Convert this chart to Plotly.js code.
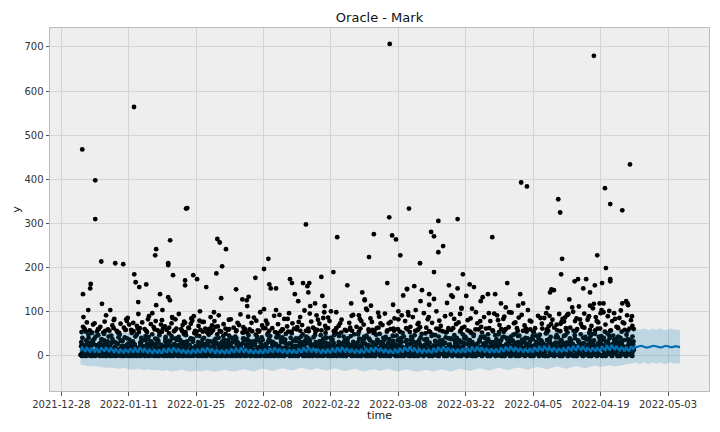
<!DOCTYPE html>
<html>
<head>
<meta charset="utf-8">
<script src="https://cdn.plot.ly/plotly-3.0.1.min.js"></script>
<style>
  body { margin: 0; background: #fff; }
  #plot { width: 720px; height: 432px; }
</style>
</head>
<body>
<div id="plot"></div>
<script>
// observations sampled every 4 hours from 2022-01-01 00:00 (6 per day)
var lowStart = '2022-01-01T00:00';
var lowStepHours = 4;
var lowVals = [
  2,31,8,0,14,22, 5,0,26,12,41,3, 0,18,7,35,2,11, 9,1,24,4,47,15, 0,13,38,6,21,2,
  27,4,0,16,9,44, 3,20,11,0,33,7, 14,0,5,29,2,52, 1,9,36,17,0,23, 6,42,2,13,25,0,
  18,0,8,31,4,12, 0,27,15,3,48,9, 11,2,22,0,37,6, 4,16,0,45,10,28, 0,7,19,2,33,13,
  24,1,9,39,0,15, 3,30,0,12,21,55, 8,0,17,5,43,26, 0,14,34,2,9,19, 20,3,0,27,11,40,
  1,10,23,0,36,6, 15,0,4,49,18,30, 2,25,9,0,13,38, 0,7,32,16,3,21, 12,1,0,28,45,8,
  5,19,37,0,10,24, 0,11,3,26,50,14, 9,0,21,6,33,17, 2,29,12,0,41,7, 16,4,0,23,10,35,
  0,8,27,14,2,46, 20,0,6,31,11,3, 1,15,40,0,24,9, 7,0,18,3,29,53, 0,12,25,5,38,16,
  22,2,0,14,9,33, 4,30,11,0,44,19, 0,6,21,2,15,36, 13,0,8,27,4,48, 1,17,34,0,10,23,
  9,0,3,25,42,14, 0,20,12,6,31,2, 18,1,0,37,8,26, 3,11,28,0,16,51, 0,7,22,13,39,4,
  15,0,5,30,19,44, 2,24,10,0,35,12, 0,16,40,3,9,27, 11,0,19,6,47,31, 4,28,0,14,22,8,
  0,10,33,1,17,42, 21,3,0,12,26,6, 1,14,37,0,9,20, 7,0,23,4,45,15, 0,18,11,29,2,34,
  13,0,6,40,21,8, 3,25,0,15,10,49, 0,9,19,2,32,13, 16,1,0,27,7,38, 5,12,43,0,20,24,
  0,6,14,3,30,52, 10,0,22,8,36,17, 2,31,0,13,4,25, 0,15,39,6,18,9, 19,2,0,28,11,46,
  4,8,26,0,14,35, 0,21,5,12,41,3, 12,0,17,33,7,24, 1,27,9,0,44,15, 6,0,20,3,29,11,
  0,13,36,2,22,50, 18,0,7,25,10,38, 3,16,0,30,5,19, 0,9,24,12,47,2, 14,1,0,21,34,7,
  5,28,11,0,17,42, 0,6,19,3,26,13, 20,0,8,37,15,31, 2,12,0,23,4,55, 0,17,30,7,40,10,
  9,0,14,2,25,36, 1,22,6,0,48,18, 0,11,27,15,3,33, 16,2,0,9,21,44, 4,29,12,0,38,7,
  0,8,18,5,31,24, 13,0,3,26,15,49, 2,19,35,0,10,22, 0,7,14,41,4,28, 11,0,23,6,33,17,
  3,30,0,16,9,45, 0,12,20,2,37,14, 18,1,0,28,8,40, 5,15,32,0,22,11, 0,9,4,25,46,17,
  14,0,19,7,35,27, 1,24,10,0,13,52, 0,16,38,3,28,8, 21,2,0,12,42,19, 6,11,30,0,24,36,
  0,18,7,14,47,26, 10,0,22,33,5,15, 2,27,13,0,40,19, 0,8,35,17,24,4, 15,1,0,29,11,43,
  3,21,9,0,38,26, 0,13,30,6,19,50, 17,0,11,24,3,34, 2,26,0,15,41,9, 0,10,20,32,5,46,
  12,3,0,27,18,37, 6,23,14,0,44,30, 0,9,31,20,4,16, 18,2,0,11,38,25, 4,15,28,0,9,33
];
// the in-between samples, every 4 hours from 2022-01-01 02:00
var low2Start = '2022-01-01T02:00';
var lowVals2 = [
  3,0,17,9,24,1, 0,12,5,21,30,7, 15,2,0,26,10,4, 0,8,19,3,13,28, 6,22,1,0,16,35,
  11,0,7,24,3,18, 0,14,29,5,9,2, 20,4,0,12,27,8, 2,17,10,0,34,6, 0,9,23,15,4,19,
  13,1,0,6,28,21, 4,25,11,0,8,16, 0,3,18,31,12,5, 22,0,9,2,17,38, 1,13,0,26,7,10,
  8,0,21,14,3,30, 0,19,6,11,25,2, 16,2,0,33,9,13, 3,10,27,0,18,5, 0,23,4,15,8,36,
  12,0,17,2,29,7, 5,26,0,10,14,21, 0,6,13,24,3,40, 18,1,0,9,20,11, 2,15,31,0,6,25,
  0,11,4,19,27,8, 14,0,22,5,10,33, 1,18,7,0,26,12, 9,0,3,28,15,20, 0,24,12,6,37,2,
  17,3,0,13,8,29, 4,20,10,0,32,15, 0,7,26,18,2,11, 23,0,5,12,39,6, 1,16,0,21,9,27,
  10,0,18,3,24,14, 0,29,8,15,5,36, 13,1,0,20,11,4, 2,12,25,0,17,31, 0,6,16,9,28,3,
  19,0,11,27,4,13, 3,22,0,7,15,42, 0,9,30,14,20,5, 15,2,0,10,26,18, 5,18,7,0,34,12,
  0,13,24,4,9,29, 21,0,6,16,3,37, 1,10,28,0,14,8, 8,0,19,25,5,22, 0,26,11,2,33,15,
  12,4,0,18,7,30, 2,15,23,0,10,41, 0,8,14,29,20,3, 16,0,5,11,27,9, 4,21,12,0,6,35,
  0,10,31,17,3,24, 19,1,0,8,14,28, 6,27,9,0,22,13, 0,5,17,33,11,2, 14,0,24,6,19,39,
  3,12,0,20,9,26, 0,18,7,13,30,4, 11,0,25,3,16,34, 1,23,10,0,8,19, 0,7,20,28,14,45,
  17,2,0,12,5,24, 5,16,32,0,21,9, 0,11,6,19,36,14, 22,0,13,4,27,8, 2,19,0,15,10,31,
  0,8,26,11,3,18, 13,0,9,23,16,38, 4,28,0,7,12,20, 0,14,19,2,33,6, 18,1,0,26,10,15,
  7,21,12,0,29,4, 0,9,17,24,6,40, 15,0,4,11,22,13, 2,25,14,0,18,32, 0,6,21,9,3,27,
  11,0,16,30,8,19, 3,19,0,13,24,5, 0,12,28,6,15,37, 20,2,0,17,9,25, 5,14,33,0,21,10,
  0,18,8,24,4,29, 16,0,12,3,31,20, 1,22,6,0,14,43, 0,10,27,18,5,12, 12,3,0,21,35,8,
  6,26,15,0,11,23, 0,7,19,4,30,16, 18,0,10,26,13,3, 2,14,0,22,8,38, 0,24,12,5,17,29,
  9,0,20,14,33,6, 4,17,0,10,25,19, 0,13,31,7,2,22, 17,1,0,27,12,9, 3,20,8,0,36,15,
  0,11,24,16,5,30, 14,0,7,21,28,10, 1,27,13,0,19,4, 0,9,18,31,6,24, 21,2,0,12,40,16,
  5,15,26,0,8,33, 0,19,10,23,3,14, 12,0,28,5,17,37, 2,24,0,14,9,21, 0,8,16,29,12,4,
  18,3,0,9,25,34, 6,21,13,0,30,11, 0,10,27,17,4,19, 15,0,6,22,35,8, 3,17,11,0,26,14
];
// busier samples, every 6 hours from 2022-01-01 03:00 (4 per day)
var low3Start = '2022-01-01T03:00';
var low3StepHours = 6;
var lowVals3 = [
  22,41,17,58, 35,19,48,27, 16,53,30,39, 44,24,61,18, 29,37,20,50, 57,26,33,15, 21,46,38,63, 31,17,55,42, 48,34,23,19, 16,59,40,28,
  37,21,52,33, 25,44,18,62, 54,30,41,20, 19,36,57,27, 43,16,31,49, 28,60,22,38, 35,47,17,55, 62,23,39,29, 18,51,34,45, 40,26,58,21,
  24,43,36,17, 56,31,20,47, 33,64,25,39, 17,38,52,22, 46,27,19,59, 30,55,41,16, 21,34,48,62, 53,18,29,37, 39,49,23,57, 16,32,45,26,
  50,22,36,61, 27,41,18,34, 44,58,31,20, 19,26,53,40, 61,35,22,47, 33,16,56,29, 25,48,38,19, 57,30,42,24, 20,63,27,51, 38,45,17,32,
  29,54,21,43, 46,19,37,60, 17,33,50,25, 55,28,41,18, 34,62,23,39, 22,40,57,31, 49,17,26,44, 31,56,35,20, 18,42,61,27, 59,24,33,47,
  26,38,19,52, 41,63,28,16, 36,22,47,58, 19,50,31,25, 53,29,44,21, 24,35,17,60, 45,57,32,23, 16,27,49,39, 62,20,38,43, 28,46,24,55,
  35,18,59,30, 21,48,37,64, 50,26,19,41, 17,43,55,29, 38,61,22,34, 57,24,46,18, 23,39,31,52, 44,16,63,27, 19,54,36,40, 32,47,20,58,
  60,29,42,23, 18,37,51,33, 27,56,20,45, 48,19,34,62, 25,44,58,21, 36,17,30,53, 55,40,24,38, 20,63,47,28, 41,22,35,57, 17,49,29,44,
  39,58,26,19, 52,31,45,22, 24,17,60,36, 43,53,28,41, 18,34,49,63, 31,25,56,20, 47,38,19,33, 26,61,42,54, 59,21,37,29, 35,44,23,48,
  22,50,63,31, 46,27,18,57, 33,41,55,24, 19,60,38,45, 54,23,32,17, 40,48,26,62, 28,19,51,36, 57,35,43,21, 24,64,30,47, 42,18,56,33,
  30,45,21,59, 53,26,40,34, 18,57,47,22, 61,33,28,49, 25,41,64,19, 37,20,52,44, 50,29,35,58, 21,62,43,27, 45,36,24,55, 33,51,19,40,
  58,24,46,31, 27,39,63,20, 41,55,22,36, 19,48,57,30, 36,28,44,61
];

// scattered higher observations: day since 2022-01-01 and value
var highDay = [
  0.35,3.05,3.05,4.3,7.2,8.86,0.5,2.1,2.0,1.6,4.44,6.17,0.5,1.1,11.15,11.44,12.19,13.64,11.98,9.49,
  10.94,15.5,15.7,18.6,18.2,18.2,19.2,16.5,15.7,14.9,17.0,18.2,18.56,19.0,19.7,21.9,22.15,21.7,21.7,23.4,
  24.2,26.1,28.4,28.9,28.2,24.8,21.7,23.2,24.7,27.3,27.8,28.7,11.1,30.2,29.4,29.2,32.3,33.6,34.5,34.9,
  34.6,36.3,38.1,39.0,39.2,39.5,40.6,38.1,37.3,40.6,46.8,43.5,43.9,46.2,47.5,47.1,47.3,44.5,45.2,50.0,
  50.2,50.7,50.6,48.7,47.7,53.3,52.5,55.4,56.2,58.5,59.0,59.0,59.9,60.9,60.3,59.5,57.8,53.1,64.2,106.6,
  64.1,68.2,64.7,65.5,66.4,63.7,64.9,67.0,67.8,67.8,69.3,70.9,70.5,70.6,69.6,68.0,66.0,72.8,73.4,74.3,
  75.3,74.3,78.3,73.4,72.4,73.4,72.4,76.5,77.0,77.3,76.1,78.3,79.4,80.1,79.1,79.1,80.8,81.7,82.1,83.1,
  83.5,84.6,85.5,86.1,85.9,87.3,88.6,88.3,89.0,91.3,91.9,90.9,91.5,92.7,99.2,99.6,108.9,110.0,112.5,114.1,
  100.0,99.8,107.3,109.1,110.0,110.0,102.6,103.3,105.0,104.4,105.8,106.8,108.3,97.5,97.8,98.3,101.5,102.1,103.5,105.8,
  106.4,107.8,108.6,108.0,108.6,105.6,112.5,113.3,113.6,113.7,96.7,101.2,101.0,100.6,102.7,100.1,99.7
];
var highVal = [
  468,398,310,214,210,208,140,163,153,104,118,104,66,55,185,167,156,162,122,83,
  75,228,242,262,210,206,183,140,115,97,104,133,126,88,83,334,335,171,160,183,
  174,156,265,257,187,101,75,80,80,69,79,92,564,242,203,131,151,128,126,134,
  113,177,197,220,162,153,153,106,99,104,298,174,165,165,165,158,144,140,124,179,
  136,113,99,119,113,269,190,160,119,144,128,126,224,276,114,104,92,99,707,680,
  314,334,273,264,228,165,116,137,151,152,158,149,210,124,104,99,101,281,271,306,
  249,235,310,190,140,129,116,160,137,134,120,153,185,136,109,107,162,156,99,124,
  133,140,269,140,96,119,165,110,99,140,119,114,393,384,355,325,380,344,330,434,
  220,185,228,199,174,169,169,174,174,153,144,160,165,144,151,149,128,110,112,114,
  108,119,119,97,99,90,119,124,119,115,97,94,92,87,79,84,73
];

// mid range observations: day since 2022-01-01 and value
var midDay = [
  0.8,1.9,2.6,3.4,4.1,5.0,5.7,6.6,7.5,8.3,9.0,9.8,10.5,11.7,12.8,13.3,14.2,14.6,15.2,16.0,
  16.9,17.5,18.9,19.9,20.4,21.2,22.5,23.0,23.8,24.5,25.3,26.6,27.0,28.0,29.7,30.6,31.2,31.8,32.9,33.2,
  34.0,35.5,36.0,36.8,37.7,38.5,39.8,40.2,41.0,41.6,42.3,42.9,43.3,44.0,44.9,45.6,46.0,46.5,47.9,48.3,
  49.0,49.6,50.4,51.0,51.7,52.0,53.6,54.2,54.9,55.8,56.6,57.3,58.0,58.8,59.3,60.5,61.5,62.0,62.7,63.2,
  64.0,65.2,65.9,66.7,67.4,68.5,69.0,70.0,71.3,71.8,72.1,73.0,73.9,74.8,75.7,76.4,77.6,78.0,78.8,79.7,
  80.4,81.3,82.4,83.8,84.2,85.1,86.5,87.0,87.8,88.9,89.5,90.3,91.0,92.2,92.9,93.6,94.4,95.0,95.8,96.3,
  97.0,97.2,98.0,98.9,99.4,100.4,101.7,102.3,103.0,103.9,104.6,105.3,106.1,106.6,107.0,107.5,108.2,109.5,110.4,110.8,
  111.3,111.9,112.2,112.9,113.5,114.3,114.6,
  0.2,1.3,2.3,3.8,4.7,6.0,7.0,8.0,9.3,10.1,11.0,12.3,13.8,15.6,16.4,17.9,18.4,19.4,20.9,21.8,
  22.9,24.1,25.9,26.3,27.5,28.5,29.2,30.1,32.3,33.8,34.6,35.1,37.0,38.0,39.2,40.8,42.0,43.8,45.0,46.8,
  47.3,48.8,50.0,50.8,52.6,53.1,55.2,56.0,57.8,59.8,61.0,62.3,63.7,65.0,66.3,67.9,69.5,70.5,72.6,74.3,
  75.2,77.0,79.2,80.9,82.0,83.2,85.6,86.9,88.3,90.8,92.5,94.0,96.8,97.7,99.0,100.8,102.9,104.2,105.8,107.9,
  109.0,110.0,111.6,113.0,114.0,
  0.6,2.9,5.3,6.9,9.6,12.0,14.0,16.7,19.1,21.5,23.5,25.6,27.7,30.8,32.6,34.8,36.5,38.8,41.3,43.0,
  45.3,47.6,49.3,51.4,53.9,56.3,58.3,60.2,61.8,64.4,66.0,68.1,70.2,72.3,74.5,76.9,78.5,81.0,83.0,84.8,
  86.7,88.0,90.0,91.6,93.3,95.5,97.4,99.9,101.3,103.7,105.5,107.2,109.8,111.0,112.6,114.5
];
var midVal = [
  62,58,71,55,66,78,60,69,57,73,64,86,59,68,76,61,90,72,65,58,
  81,67,74,62,95,70,63,85,57,68,77,60,88,66,72,59,83,64,70,94,
  61,75,87,58,69,80,63,91,72,56,84,67,97,74,60,88,70,103,78,64,
  92,73,86,62,79,101,68,82,59,75,93,66,84,71,107,77,63,89,70,96,
  74,85,61,92,79,66,88,72,97,64,83,75,101,68,90,63,84,72,95,66,
  81,107,74,88,62,79,92,70,84,65,98,76,87,69,104,78,63,91,73,86,
  109,67,82,71,95,78,64,100,85,73,96,82,68,118,88,76,104,90,79,97,
  66,86,103,74,92,81,68,
  54,76,52,61,53,57,84,52,59,71,56,63,54,79,53,59,64,56,61,54,
  73,55,62,53,58,67,55,62,56,65,53,60,55,63,57,52,60,55,65,57,
  62,55,58,68,56,63,57,64,55,60,56,74,58,62,55,60,57,65,54,61,
  56,59,63,55,60,66,58,54,61,57,62,55,60,72,58,63,57,66,59,62,
  71,57,64,59,62,
  88,74,92,81,79,95,83,71,86,78,90,77,99,82,75,89,80,73,93,84,
  77,96,82,87,74,91,79,85,98,77,83,92,75,88,80,94,76,85,79,97,
  81,89,74,93,80,86,91,77,95,83,88,79,102,84,76,90
];

// model fit every 6 hours from 2022-01-01 (4 per day)
var fitStart = '2022-01-01T00:00';
var fitStepHours = 6;
var yhatFit = [
  10,21,17,12, 9,20,16,11, 8,19,15,10, 8,18,15,9, 9,19,16,11, 10,20,17,12, 9,19,15,10, 7,17,14,9, 6,16,13,8, 6,16,13,8,
  7,17,14,9, 8,19,15,10, 9,19,16,11, 8,18,14,9, 6,16,13,8, 5,15,12,7, 6,15,12,7, 7,17,14,9, 8,18,15,10, 9,19,16,11,
  8,17,14,9, 6,15,12,7, 5,14,11,6, 5,15,12,7, 6,16,13,8, 8,18,15,10, 9,19,16,11, 7,17,14,9, 5,15,12,7, 5,14,11,6,
  5,15,12,7, 7,17,14,9, 8,18,15,10, 9,19,16,11, 7,17,14,9, 6,15,12,7, 5,14,11,6, 5,15,12,7, 7,16,13,8, 8,18,15,10,
  9,19,16,11, 8,17,14,9, 6,16,13,8, 5,15,12,7, 6,15,12,7, 7,17,14,9, 9,19,16,11, 10,20,17,12, 8,18,15,10, 7,16,13,8,
  6,15,12,7, 6,16,13,8, 8,18,15,10, 9,19,16,11, 10,20,17,12, 8,18,15,10, 7,16,13,8, 6,15,12,7, 6,16,13,8, 8,18,15,10,
  9,19,16,11, 10,20,17,12, 9,18,15,10, 7,16,13,8, 6,15,12,7, 7,16,13,8, 8,18,15,10, 10,20,17,12, 10,21,17,12, 9,19,16,11,
  7,17,14,9, 6,16,13,8, 7,16,13,8, 8,18,15,10, 10,20,17,12, 11,21,18,13, 9,19,16,11, 8,17,14,9, 7,16,13,8, 7,17,14,9,
  9,19,16,11, 10,21,17,12, 11,21,18,13, 10,20,16,11, 8,18,15,10, 7,17,14,9, 8,17,14,9, 9,19,16,11, 11,21,18,13, 12,22,18,13,
  10,20,17,12, 9,18,15,10, 8,17,14,9, 8,18,15,10, 10,20,17,12, 11,22,18,13, 12,23,19,14, 11,21,18,13, 9,19,16,11, 8,18,15,10,
  9,19,16,11, 11,21,18,13, 12,23,19,14, 13,24,20,15, 12,22,19,14, 10,20,17,12, 9,19,16,11, 10,20,17,12, 12,22,19,14, 13,24,20,15,
  14,25,21,16, 13,23,20,15, 11,21,18,13, 11,21,17,12, 12,22,19,14
];

// uncertainty interval, one value per day from 2022-01-01
var upperFit = [
  57,56,54,55,53,52,54,51,50,53, 52,49,51,50,48,52,49,47,50,48, 46,49,47,45,48,46,44,47,49,46,
  48,50,47,45,49,51,48,46,50,52, 49,47,51,53,50,48,52,50,47,49, 53,51,48,50,54,52,49,51,55,53,
  50,48,52,54,51,49,53,55,52,50, 54,52,49,51,55,53,50,52,56,54, 51,49,53,55,52,50,54,56,53,51,
  55,53,50,52,56,54,51,53,57,55, 52,54,58,56,53,55,57,54,56,58, 55,57,59,56,58
];
var lowerFit = [
  -20,-22,-24,-23,-25,-27,-26,-28,-29,-27, -30,-31,-29,-32,-30,-33,-31,-34,-32,-35, -33,-31,-34,-36,-33,-35,-32,-34,-36,-33,
  -31,-34,-35,-32,-30,-33,-35,-31,-29,-32, -34,-30,-28,-31,-33,-29,-27,-30,-32,-28, -31,-33,-30,-28,-32,-34,-31,-29,-33,-35,
  -32,-30,-34,-31,-29,-33,-35,-32,-30,-34, -36,-33,-31,-35,-32,-30,-33,-35,-31,-29, -32,-34,-30,-28,-31,-33,-29,-27,-30,-32,
  -28,-26,-29,-31,-27,-25,-28,-30,-26,-24, -27,-29,-25,-23,-26,-28,-24,-22,-25,-23, -21,-24,-22,-20,-19
];

// forecast every 12 hours from 2022-04-26
var fcStart = '2022-04-26T00:00';
var fcStepHours = 12;
var yhatFc = [21,20,22,23,21,19,20,22,23,22,20,19,21,23,22,20,20,22,21,20];
var upperFc = [60,62,59,61,63,60,58,61,62,59,61,63,60,58,60,62,61,59,60,58];
var lowerFc = [-17,-15,-18,-16,-14,-17,-19,-16,-15,-18,-16,-14,-17,-19,-16,-15,-17,-18,-16,-17];

var DAY = 86400000;
var base = Date.parse('2022-01-01T00:00:00Z');

function toTime(ms) {
    return new Date(ms).toISOString().slice(0, 19).replace('T', ' ');
}
function stepTimes(start, n, hours) {
    var t0 = Date.parse(start + ':00Z');
    var out = [];
    for (var i = 0; i < n; i++) out.push(toTime(t0 + i * hours * 3600000));
    return out;
}
function dayTimes(days) {
    return days.map(function(d) { return toTime(base + d * DAY); });
}

//Collects all observations in one black point trace
var obsX = stepTimes(lowStart, lowVals.length, lowStepHours).concat(
    stepTimes(low2Start, lowVals2.length, lowStepHours),
    stepTimes(low3Start, lowVals3.length, low3StepHours),
    dayTimes(midDay), dayTimes(highDay));
var obsY = lowVals.concat(lowVals2, lowVals3, midVal, highVal);

//Model line: fitted part followed by the forecast
var lineX = stepTimes(fitStart, yhatFit.length, fitStepHours).concat(stepTimes(fcStart, yhatFc.length, fcStepHours));
var lineY = yhatFit.concat(yhatFc);

//Uncertainty band as one closed shape
var upX = stepTimes(fitStart, upperFit.length, 24).concat(stepTimes(fcStart, upperFc.length, fcStepHours));
var lowX = stepTimes(fitStart, lowerFit.length, 24).concat(stepTimes(fcStart, lowerFc.length, fcStepHours));
var bandUp = upperFit.concat(upperFc);
var bandLow = lowerFit.concat(lowerFc);

var obs = {
    x: obsX, y: obsY,
    type: 'scatter', mode: 'markers',
    marker: { color: '#000', size: 4.8 },
    hoverinfo: 'skip'
};
var fit = {
    x: lineX, y: lineY,
    type: 'scatter', mode: 'lines',
    line: { color: '#0072B2', width: 2.2 },
    hoverinfo: 'skip'
};
var band = {
    x: lowX.concat(upX.slice().reverse()),
    y: bandLow.concat(bandUp.slice().reverse()),
    type: 'scatter', mode: 'lines',
    fill: 'toself',
    fillcolor: 'rgba(0,114,178,0.2)',
    line: { width: 0 },
    hoverinfo: 'skip'
};

var tickFont = { family: 'DejaVu Sans, sans-serif', size: 10, color: '#333' };

var layout = {
    width: 720, height: 432,
    showlegend: false,
    paper_bgcolor: '#fff',
    plot_bgcolor: '#eeeeee',
    margin: { l: 50, r: 11, t: 28, b: 41 },
    font: { family: 'DejaVu Sans, sans-serif', color: '#222' },
    title: {
        text: 'Oracle - Mark',
        font: { family: 'DejaVu Sans, sans-serif', size: 13, color: '#111' },
        x: 0.5, xref: 'paper', xanchor: 'center',
        y: 1 - 17 / 432, yref: 'container', yanchor: 'middle'
    },
    xaxis: {
        type: 'date',
        range: ['2021-12-25 15:36', '2022-05-11 12:15'],
        tick0: '2021-12-28', dtick: 14 * DAY,
        tickformat: '%Y-%m-%d',
        showgrid: true, gridcolor: '#d4d4d4', gridwidth: 1,
        showline: true, linecolor: '#bcbcbc', linewidth: 1, mirror: true,
        ticks: 'outside', ticklen: 3.5, tickcolor: '#555',
        tickfont: tickFont,
        zeroline: false,
        title: { text: 'time', font: { family: 'DejaVu Sans, sans-serif', size: 11, color: '#222' }, standoff: 0 }
    },
    yaxis: {
        range: [-79.4, 743],
        tick0: 0, dtick: 100,
        showgrid: true, gridcolor: '#d4d4d4', gridwidth: 1,
        showline: true, linecolor: '#bcbcbc', linewidth: 1, mirror: true,
        ticks: 'outside', ticklen: 3.5, tickcolor: '#555',
        tickfont: tickFont,
        zeroline: false,
        title: { text: 'y', font: { family: 'DejaVu Sans, sans-serif', size: 11, color: '#222' }, standoff: 1 }
    }
};

Plotly.newPlot('plot', [obs, fit, band], layout, { staticPlot: true, displayModeBar: false });
</script>
</body>
</html>
